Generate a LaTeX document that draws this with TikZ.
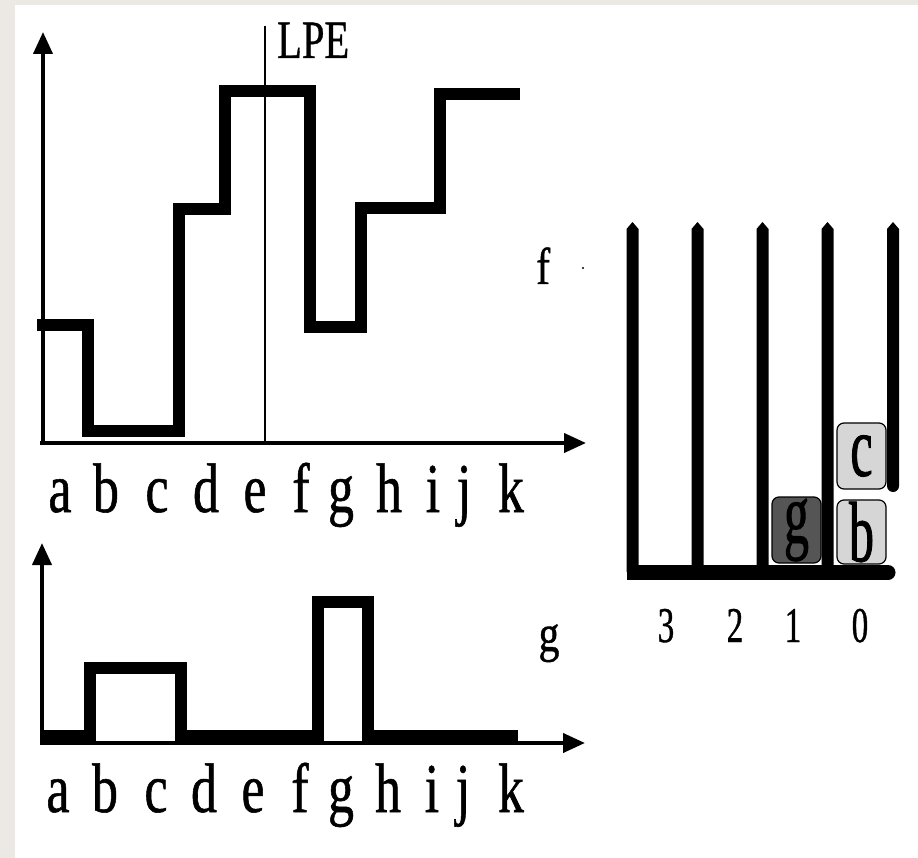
\documentclass[tikz,border=0pt]{standalone}
\usepackage{fontspec}
\setmainfont{Liberation Serif}
\newfontfamily\axlbl[FakeStretch=0.74,FakeBold=0.8]{Liberation Serif}
\newfontfamily\fglbl[FakeStretch=0.8,FakeBold=0.8]{Liberation Serif}
\newfontfamily\lpelbl[FakeStretch=0.75,FakeBold=0.6]{Liberation Serif}
\newfontfamily\digitlbl[FakeStretch=0.66,FakeBold=0.8]{Liberation Serif}
\newfontfamily\boxlbl[FakeStretch=0.58,FakeBold=1]{Liberation Serif}
\usetikzlibrary{arrows.meta}
\definecolor{bgbeige}{HTML}{ECE8E4}
\definecolor{boxlight}{HTML}{D6D6D6}
\definecolor{boxdark}{HTML}{555555}
\tikzset{
  axisline/.style={line width=4pt, -{Triangle[width=19pt,length=22pt]}},
  funcline/.style={line width=12pt, line join=miter},
  lpeline/.style={line width=1.8pt},
  axl/.style={anchor=base, inner sep=0pt, font={\axlbl\fontsize{70}{74}\selectfont}},
  fgl/.style={anchor=base, inner sep=0pt, font={\fglbl\fontsize{52}{56}\selectfont}},
  lpel/.style={anchor=base west, inner sep=0pt, font={\lpelbl\fontsize{54}{58}\selectfont}},
  digl/.style={anchor=base, inner sep=0pt, font={\digitlbl\fontsize{50}{54}\selectfont}},
  boxl/.style={anchor=center, inner sep=0pt, font={\boxlbl\fontsize{86}{90}\selectfont}},
  queuebox/.style={draw=black, line width=1.2pt, rounded corners=7pt},
}
\begin{document}
\begin{tikzpicture}[x=1pt,y=-1pt]
% background
\fill[bgbeige] (0,0) rectangle (918,858);
\fill[white] (15,5) rectangle (918,858);
\useasboundingbox (0,0) rectangle (918,858);

% ---------- top graph (f) ----------
\coordinate (fyb) at (43,445);
\coordinate (fyt) at (43,32);
\coordinate (fxl) at (40,443);
\coordinate (fxr) at (586,443);
\draw[axisline] (fyb) -- (fyt);
\draw[axisline] (fxl) -- (fxr);
\coordinate (lpeb) at (265,443);
\coordinate (lpet) at (265,26);
\draw[lpeline] (lpeb) -- (lpet);
\node[lpel] (lpe) at (277,58) {LPE};
\draw[funcline] (37,325) -- (87.5,325) -- (87.5,431) -- (179,431) -- (179,209)
  -- (224.5,209) -- (224.5,91) -- (309.5,91) -- (309.5,327) -- (361,327)
  -- (361,208) -- (440,208) -- (440,94) -- (520,94);
\foreach \l/\x [count=\i] in {a/60,b/106,c/157,d/206,e/255,f/301,g/341,h/389,i/433,j/464,k/511}
  \node[axl] (ta\i) at (\x,512) {\l};
\node[fgl, anchor=base west] (flab) at (536,284) {f};
\fill (583,268) circle (1.2);

% ---------- bottom graph (g) ----------
\coordinate (gyb) at (42,745);
\coordinate (gyt) at (42,543);
\coordinate (gxl) at (40,743);
\coordinate (gxr) at (585,743);
\draw[axisline] (gyb) -- (gyt);
\draw[axisline] (gxl) -- (gxr);
\draw[funcline] (40,736) -- (89.5,736) -- (89.5,668) -- (181,668) -- (181,736)
  -- (318,736) -- (318,602) -- (368,602) -- (368,736) -- (518,736);
\foreach \l/\x [count=\i] in {a/58,b/105,c/156,d/204,e/253,f/300,g/341,h/388,i/432,j/463,k/511}
  \node[axl] (ba\i) at (\x,812) {\l};
\node[fgl] (glab) at (549,651) {g};

% ---------- right graph (queues) ----------
\foreach \x in {632.5,697.5,762.5,827.5}
  \fill (\x-6,572) -- (\x-6,229) -- (\x,222) -- (\x+6,229) -- (\x+6,572) -- cycle;
\fill (887,486) -- (887,229) -- (893,222) -- (899,229) -- (899,486) -- cycle;
\fill (893,486) circle (6);
\fill (627,565) rectangle (888,580);
\fill (888,572.5) circle (7.5);

\node[queuebox, fill=boxlight, minimum width=49pt, minimum height=66pt] (qc) at (861.5,456) {};
\node[queuebox, fill=boxlight, minimum width=49pt, minimum height=64pt] (qb) at (861.5,532) {};
\node[queuebox, fill=boxdark, minimum width=49pt, minimum height=66pt] (qg) at (796.5,530) {};
\node[boxl] (lc) at (qc.center) {c};
\node[boxl] (lb) at (qb.center) {b};
\node[boxl] (lg) at (qg.center) {g};

\node[digl] (d3) at (666,642) {3};
\node[digl] (d2) at (735,642) {2};
\node[digl] (d1) at (793,642) {1};
\node[digl] (d0) at (860,642) {0};
\end{tikzpicture}
\end{document}
